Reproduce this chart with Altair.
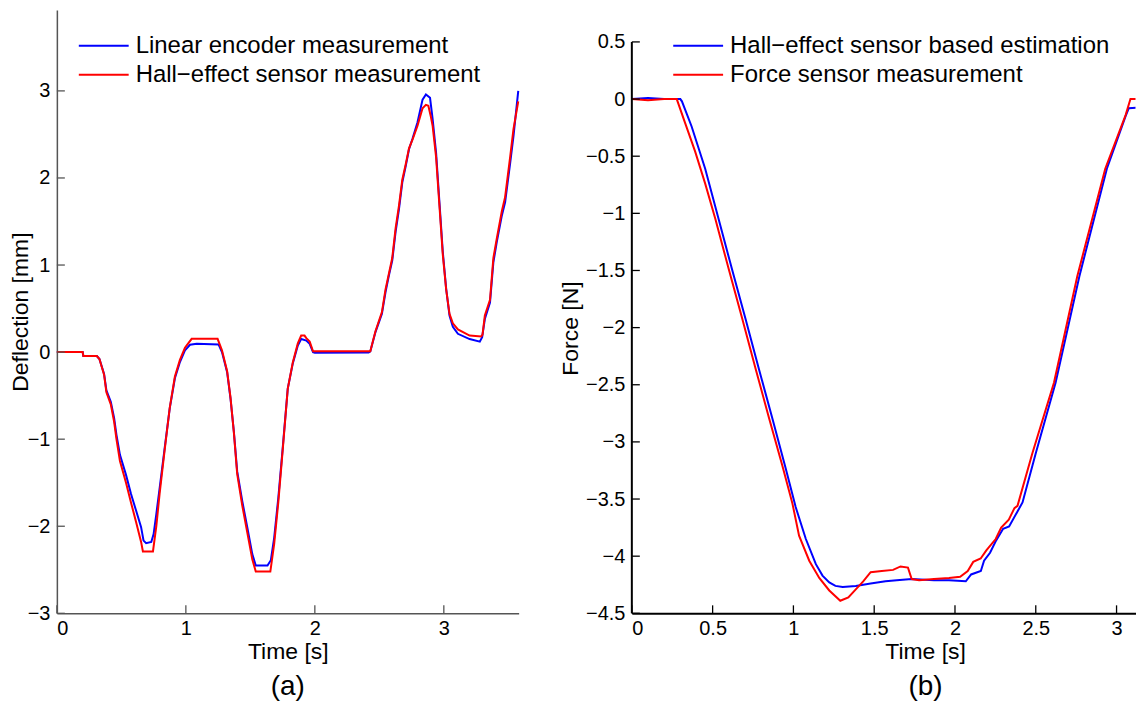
import altair as alt
import pandas as pd

FONT = "Liberation Sans"
BLUE = "#0000ff"
RED = "#ff0000"

# ---------------- Panel (a): deflection ----------------
a_blue_name = "Linear encoder measurement"
a_red_name = "Hall\u2212effect sensor measurement"

a_blue_t = [0, 0.2, 0.205, 0.31, 0.33, 0.366, 0.384, 0.418, 0.444, 0.462, 0.489, 0.536,
            0.575, 0.614, 0.653, 0.672, 0.692, 0.732, 0.75, 0.771, 0.797, 0.836, 0.875,
            0.915, 0.954, 0.993, 1.032, 1.084, 1.254, 1.28, 1.32, 1.346, 1.372, 1.398,
            1.437, 1.476, 1.515, 1.542, 1.633, 1.659, 1.685, 1.717, 1.751, 1.79, 1.829,
            1.868, 1.894, 1.934, 1.96, 1.986, 2.0, 2.417, 2.43, 2.47, 2.52, 2.548, 2.574,
            2.6, 2.626, 2.652, 2.678, 2.705, 2.73, 2.757, 2.796, 2.835, 2.861, 2.893,
            2.913, 2.94, 2.966, 2.992, 3.018, 3.044, 3.07, 3.109, 3.2, 3.279, 3.297,
            3.318, 3.358, 3.384, 3.41, 3.45, 3.475, 3.515, 3.54, 3.577]
a_blue_v = [0, 0, -0.045, -0.045, -0.08, -0.25, -0.44, -0.57, -0.76, -0.95, -1.18, -1.41,
            -1.63, -1.82, -2.01, -2.165, -2.195, -2.18, -2.09, -1.86, -1.56, -1.10, -0.646,
            -0.30, -0.114, 0.019, 0.084, 0.095, 0.087, 0.0, -0.23, -0.53, -0.91, -1.37,
            -1.71, -2.01, -2.32, -2.45, -2.45, -2.39, -2.13, -1.67, -1.10, -0.42, -0.13,
            0.076, 0.15, 0.133, 0.095, 0.0, -0.008, -0.005, 0.008, 0.23, 0.44, 0.69, 0.88,
            1.05, 1.38, 1.64, 1.95, 2.14, 2.33, 2.45, 2.64, 2.9, 2.96, 2.92,
            2.68, 2.29, 1.72, 1.15, 0.73, 0.42, 0.29, 0.21, 0.15, 0.12, 0.17,
            0.38, 0.57, 1.03, 1.26, 1.57, 1.72, 2.18, 2.48, 3.0]

a_red_t = [0, 0.2, 0.205, 0.31, 0.33, 0.366, 0.384, 0.418, 0.444, 0.462, 0.489, 0.536,
           0.575, 0.614, 0.653, 0.667, 0.745, 0.771, 0.797, 0.836, 0.875, 0.915, 0.954,
           0.993, 1.045, 1.246, 1.28, 1.32, 1.346, 1.372, 1.398, 1.437, 1.476, 1.515,
           1.542, 1.655, 1.685, 1.717, 1.751, 1.79, 1.829, 1.868, 1.894, 1.92, 1.934,
           1.96, 1.986, 2.43, 2.47, 2.52, 2.548, 2.574, 2.6, 2.626, 2.652, 2.678, 2.705,
           2.73, 2.757, 2.796, 2.835, 2.861, 2.88, 2.9, 2.913, 2.94, 2.966, 2.992,
           3.018, 3.044, 3.07, 3.109, 3.2, 3.29, 3.3, 3.318, 3.358, 3.384, 3.41, 3.45,
           3.475, 3.515, 3.54, 3.577]
a_red_v = [0, 0, -0.045, -0.045, -0.08, -0.26, -0.46, -0.6, -0.8, -1.0, -1.25, -1.5,
           -1.73, -1.95, -2.18, -2.29, -2.29, -2.0, -1.62, -1.12, -0.64, -0.28, -0.09,
           0.05, 0.152, 0.152, 0.02, -0.22, -0.52, -0.92, -1.4, -1.76, -2.07, -2.38,
           -2.52, -2.52, -2.2, -1.72, -1.12, -0.42, -0.12, 0.1, 0.19, 0.19, 0.16,
           0.12, 0.01, 0.01, 0.24, 0.46, 0.72, 0.9, 1.08, 1.42, 1.68, 1.98, 2.16,
           2.34, 2.44, 2.6, 2.8, 2.84, 2.83, 2.7, 2.6, 2.24, 1.68, 1.12,
           0.72, 0.44, 0.33, 0.26, 0.19, 0.18, 0.2, 0.42, 0.6, 1.08, 1.3, 1.62,
           1.78, 2.25, 2.56, 2.88]

a_x_ticks = [0, 1, 2, 3]
a_y_ticks = [-3, -2, -1, 0, 1, 2, 3]

# ---------------- Panel (b): force ----------------
b_blue_name = "Hall\u2212effect sensor based estimation"
b_red_name = "Force sensor measurement"

b_blue_t = [0, 0.1, 0.2, 0.3, 0.31, 0.37, 0.454, 0.537, 0.62, 0.703, 0.786, 0.869, 0.952,
            1.014, 1.077, 1.139, 1.18, 1.222, 1.26, 1.305, 1.386, 1.478, 1.57, 1.64,
            1.732, 1.87, 1.963, 2.067, 2.1, 2.16, 2.18, 2.217, 2.252, 2.298, 2.335,
            2.418, 2.5, 2.623, 2.77, 2.94, 3.056, 3.076, 3.17]
b_blue_v = [0.0, 0.01, 0.0, 0.0, -0.02, -0.24, -0.61, -1.05, -1.49, -1.92, -2.36, -2.79,
            -3.23, -3.57, -3.85, -4.07, -4.17, -4.23, -4.26, -4.27, -4.26, -4.24, -4.22,
            -4.21, -4.2, -4.21, -4.21, -4.22, -4.16, -4.13, -4.04, -3.97, -3.87, -3.76,
            -3.74, -3.53, -3.1, -2.48, -1.55, -0.61, -0.15, -0.08, -0.07]

b_red_t = [0, 0.1, 0.2, 0.278, 0.33, 0.392, 0.454, 0.517, 0.6, 0.683, 0.766, 0.849, 0.93,
           0.994, 1.035, 1.098, 1.16, 1.222, 1.29, 1.34, 1.386, 1.432, 1.478, 1.547,
           1.617, 1.663, 1.709, 1.732, 1.778, 1.87, 1.963, 2.032, 2.079, 2.113, 2.159,
           2.194, 2.252, 2.286, 2.333, 2.368, 2.387, 2.479, 2.613, 2.757, 2.93, 3.056,
           3.086, 3.17]
b_red_v = [0, -0.01, 0, 0, -0.21, -0.46, -0.74, -1.05, -1.49, -1.92, -2.36, -2.79, -3.2,
           -3.54, -3.82, -4.04, -4.19, -4.3, -4.39, -4.36, -4.29, -4.22, -4.14, -4.13,
           -4.12, -4.09, -4.1, -4.2, -4.21, -4.2, -4.19, -4.18, -4.13, -4.05, -4.02,
           -3.95, -3.85, -3.75, -3.68, -3.58, -3.56, -3.1, -2.48, -1.55, -0.61, -0.14,
           0.0, 0.0]

b_x_ticks = [0, 0.5, 1, 1.5, 2, 2.5, 3]
b_y_ticks = [-4.5, -4, -3.5, -3, -2.5, -2, -1.5, -1, -0.5, 0, 0.5]


def frame(t1, v1, n1, t2, v2, n2):
    d1 = pd.DataFrame({"t": t1, "v": v1, "s": n1})
    d2 = pd.DataFrame({"t": t2, "v": v2, "s": n2})
    return pd.concat([d1, d2], ignore_index=True)


dfa = frame(a_blue_t, a_blue_v, a_blue_name, a_red_t, a_red_v, a_red_name)
dfb = frame(b_blue_t, b_blue_v, b_blue_name, b_red_t, b_red_v, b_red_name)

AW, AH = 463, 605
BW, BH = 505, 605
TICK = 8


def legend(x):
    return alt.Legend(orient="none", legendX=x, legendY=24, title=None,
                      labelFontSize=24, labelFont=FONT, symbolType="stroke",
                      symbolSize=2500, symbolStrokeWidth=2, labelOffset=6,
                      clipHeight=24, rowPadding=5, padding=0, labelLimit=0)


def inner_ticks(xticks, yticks, xs, ys, h, color):
    """Tick marks that point into the plot, placed through the chart's scales."""
    tx = alt.Chart(pd.DataFrame({"t": xticks})).mark_rule(color=color, strokeWidth=1.3).encode(
        x=alt.X("t:Q", scale=xs),
        y=alt.value(h), y2=alt.value(h - TICK))
    ty = alt.Chart(pd.DataFrame({"v": yticks})).mark_rule(color=color, strokeWidth=1.3).encode(
        y=alt.Y("v:Q", scale=ys),
        x=alt.value(0), x2=alt.value(TICK))
    return tx, ty


# ----- panel a -----
xa = alt.Scale(domain=[0, 3.58], nice=False, zero=False)
ya = alt.Scale(domain=[-3, 3.93], nice=False, zero=False)
AXC = "#555555"

a_lines = alt.Chart(dfa).mark_line(strokeWidth=2).encode(
    x=alt.X("t:Q", scale=xa, axis=alt.Axis(orient="bottom", values=a_x_ticks, ticks=False,
            domainColor=AXC, domainWidth=1.5, labelFontSize=20, labelPadding=5,
            title="Time [s]", titleFontSize=23, titlePadding=2, format="~g", grid=False)),
    y=alt.Y("v:Q", scale=ya, axis=alt.Axis(orient="left", values=a_y_ticks, ticks=False,
            domainColor=AXC, domainWidth=1.5, labelFontSize=20, labelPadding=7,
            title="Deflection [mm]", titleFontSize=23, titlePadding=-5, format="~g", grid=False)),
    color=alt.Color("s:N", scale=alt.Scale(domain=[a_blue_name, a_red_name], range=[BLUE, RED]),
                    legend=legend(21)),
)
a_tx, a_ty = inner_ticks(a_x_ticks, a_y_ticks, xa, ya, AH, AXC)
panel_a = alt.layer(a_lines, a_tx, a_ty).properties(
    width=AW, height=AH,
    title=alt.TitleParams("(a)", orient="bottom", fontSize=28, font=FONT, fontWeight="normal",
                          offset=10, anchor="middle"))

# ----- panel b -----
xb = alt.Scale(domain=[0, BW / 162.0], nice=False, zero=False)
yb = alt.Scale(domain=[-4.5, 0.78], nice=False, zero=False)

b_lines = alt.Chart(dfb).mark_line(strokeWidth=2, clip=True).encode(
    x=alt.X("t:Q", scale=xb, axis=alt.Axis(orient="bottom", values=b_x_ticks, ticks=False,
            domainColor="black", domainWidth=2, labelFontSize=20, labelPadding=5,
            title="Time [s]", titleFontSize=23, titlePadding=2, titleX=294, format="~g", grid=False)),
    y=alt.Y("v:Q", scale=yb, axis=alt.Axis(orient="left", values=b_y_ticks, ticks=False,
            domain=False, labelFontSize=20, labelPadding=7,
            title="Force [N]", titleFontSize=23, titlePadding=3, titleY=319, format="~g", grid=False)),
    color=alt.Color("s:N", scale=alt.Scale(domain=[b_blue_name, b_red_name], range=[BLUE, RED]),
                    legend=legend(40.5)),
)
b_tx, b_ty = inner_ticks(b_x_ticks, b_y_ticks, xb, yb, BH, "black")
b_axis_extent = pd.DataFrame({"v": [min(b_y_ticks)], "v_hi": [max(b_y_ticks)]})
b_axis_line = alt.Chart(b_axis_extent).mark_rule(color="black", strokeWidth=2).encode(
    x=alt.value(0),
    y=alt.Y("v:Q", scale=yb),
    y2="v_hi:Q",
)
panel_b = alt.layer(b_lines, b_tx, b_ty, b_axis_line).properties(
    width=BW, height=BH,
    title=alt.TitleParams("(b)", orient="bottom", fontSize=28, font=FONT, fontWeight="normal",
                          offset=10, anchor="middle", dx=42))

chart = alt.hconcat(panel_a, panel_b, spacing=35.5).resolve_scale(
    color="independent"
).resolve_legend(color="independent").properties(padding=0).configure(
    font=FONT
).configure_axis(
    labelFont=FONT, titleFont=FONT, titleFontWeight="normal", labelColor="black", titleColor="black"
).configure_view(stroke="transparent")

chart.save("out.html", embed_options={"renderer": "svg", "actions": False})
